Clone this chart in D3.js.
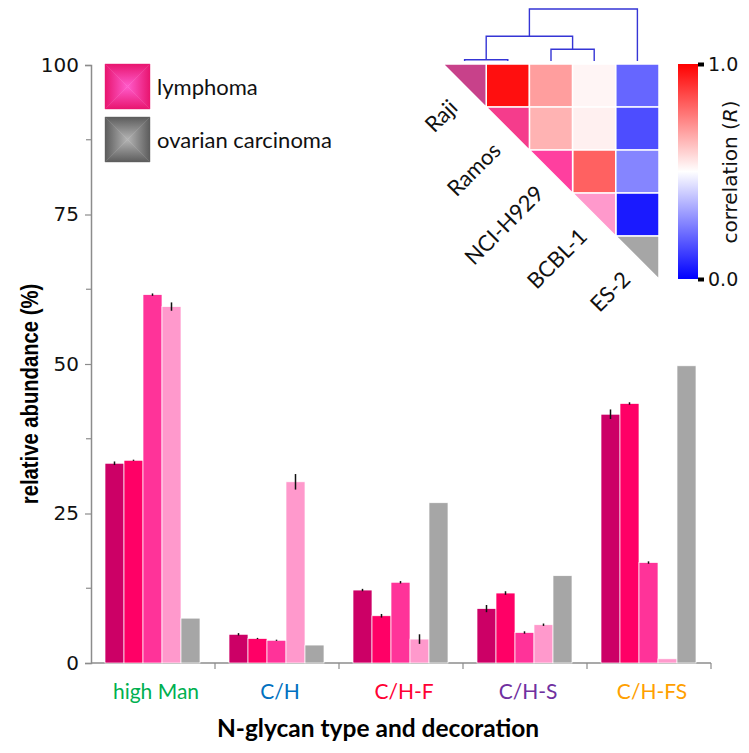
<!DOCTYPE html>
<html>
<head>
<meta charset="utf-8">
<script src="https://cdn.jsdelivr.net/npm/d3@7"></script>
<style>
  body { margin: 0; background: #fff; }
  svg { display: block; }
</style>
</head>
<body>
<div id="chart"></div>
<script>
// 資料
const categories = ['high Man', 'C/H', 'C/H-F', 'C/H-S', 'C/H-FS'];
const categoryColors = ['#00b050', '#0070c0', '#ff0033', '#7030a0', '#ffa000'];
const cellLines = ['Raji', 'Ramos', 'NCI-H929', 'BCBL-1', 'ES-2'];
const barColors = ['#cc0066', '#ff0066', '#ff3399', '#ff99cc', '#a6a6a6'];
const triColors = ['#c8418a', '#f53c8c', '#ff3f9f', '#ff99cc', '#a6a6a6'];

// 每個細胞株在各類別的相對豐度 (%)
const rajiValues   = [33.4, 4.8, 12.2, 9.1, 41.6];
const ramosValues  = [33.9, 4.1, 7.9, 11.7, 43.4];
const nciValues    = [61.6, 3.8, 13.5, 5.1, 16.8];
const bcblValues   = [59.6, 30.3, 4.0, 6.4, 0.7];
const es2Values    = [7.5, 3.0, 26.8, 14.6, 49.7];

const rajiErr  = [0.3, 0.2, 0.2, 0.6, 0.8];
const ramosErr = [0.1, 0.1, 0.3, 0.3, 0.2];
const nciErr   = [0.2, 0.1, 0.2, 0.2, 0.2];
const bcblErr  = [0.7, 1.3, 0.8, 0.2, 0];
const es2Err   = [0, 0, 0, 0, 0];

const yTicks = [0, 25, 50, 75, 100];
const yMinorTicks = [12.5, 37.5, 62.5, 87.5];

// 相關係數 (上三角)
const corrRaji  = [null, 0.97, 0.69, 0.52, 0.20];
const corrRamos = [null, null, 0.65, 0.53, 0.15];
const corrNci   = [null, null, null, 0.81, 0.26];
const corrBcbl  = [null, null, null, null, 0.05];
const corrEs2   = [null, null, null, null, null];

// 樹狀圖合併高度 (距離)
const mergeHeights = [0.02, 0.2, 0.42, 0.88];

const W = 749, H = 753;
const svg = d3.select('#chart').append('svg')
  .attr('width', W).attr('height', H)
  .attr('viewBox', `0 0 ${W} ${H}`);

const defs = svg.append('defs');

// ---- 長條圖 ----
const plot = { left: 91, right: 711, top: 65, bottom: 663 };
const values = [rajiValues, ramosValues, nciValues, bcblValues, es2Values];
const errors = [rajiErr, ramosErr, nciErr, bcblErr, es2Err];

const x0 = d3.scaleBand().domain(categories).range([plot.left, plot.right]);
const x1 = d3.scaleBand().domain(cellLines).range([14, 109]);
const y = d3.scaleLinear().domain([0, 100]).range([plot.bottom, plot.top]);

const barData = [];
categories.forEach((c, ci) => {
  cellLines.forEach((s, si) => {
    barData.push({ cat: c, series: s, si, value: values[si][ci], err: errors[si][ci] });
  });
});

const axisColor = '#8c8c8c';

// Y 軸
const gy = svg.append('g').attr('transform', `translate(${plot.left},0)`);
gy.call(d3.axisLeft(y).tickValues(yTicks).tickSize(6).tickPadding(6).tickFormat(d3.format('d')));
gy.select('.domain').attr('stroke', axisColor).attr('stroke-width', 1.5);
gy.selectAll('.tick line').attr('stroke', axisColor).attr('stroke-width', 1.2);
gy.selectAll('.tick text')
  .attr('fill', '#111')
  .style('font-family', '"DejaVu Sans", Verdana, sans-serif')
  .style('font-size', '20px');
gy.selectAll('.minor')
  .data(yMinorTicks).enter().append('line')
  .attr('x1', -5).attr('x2', 0)
  .attr('y1', d => y(d)).attr('y2', d => y(d))
  .attr('stroke', axisColor).attr('stroke-width', 1.2);

// X 軸
const gx = svg.append('g').attr('transform', `translate(0,${plot.bottom})`);
gx.append('line')
  .attr('x1', plot.left).attr('x2', plot.right)
  .attr('stroke', axisColor).attr('stroke-width', 1.5);
gx.selectAll('.xtick')
  .data(categories).enter().append('line')
  .attr('x1', d => x0(d) + x0.bandwidth()).attr('x2', d => x0(d) + x0.bandwidth())
  .attr('y1', 0).attr('y2', 6)
  .attr('stroke', axisColor).attr('stroke-width', 1.2);
gx.selectAll('.xlabel')
  .data(categories).enter().append('text')
  .attr('x', d => x0(d) + x0.bandwidth() / 2 + 3)
  .attr('y', 36)
  .attr('text-anchor', 'middle')
  .attr('fill', (d, i) => categoryColors[i])
  .style('font-family', 'Lato, "Open Sans", sans-serif')
  .style('font-size', '21px')
  .text(d => d);

// 長條
svg.append('g').selectAll('rect')
  .data(barData).enter().append('rect')
  .attr('x', d => x0(d.cat) + x1(d.series))
  .attr('y', d => y(d.value))
  .attr('width', x1.bandwidth())
  .attr('height', d => y(0) - y(d.value))
  .attr('fill', d => barColors[d.si])
  .attr('stroke', '#fff')
  .attr('stroke-width', 0.7);

// 誤差線
svg.append('g').selectAll('line')
  .data(barData.filter(d => d.err > 0)).enter().append('line')
  .attr('x1', d => x0(d.cat) + x1(d.series) + x1.bandwidth() / 2)
  .attr('x2', d => x0(d.cat) + x1(d.series) + x1.bandwidth() / 2)
  .attr('y1', d => y(d.value - d.err))
  .attr('y2', d => y(d.value + d.err))
  .attr('stroke', '#111').attr('stroke-width', 1.5);

// 軸標題
svg.append('text')
  .attr('transform', `translate(38,${394}) rotate(-90) scale(0.92,1.1)`)
  .attr('text-anchor', 'middle')
  .style('font-family', '"Liberation Sans", Arial, sans-serif')
  .style('font-weight', 'bold')
  .style('font-size', '22px')
  .text('relative abundance (%)');

svg.append('text')
  .attr('x', 378).attr('y', 737)
  .attr('text-anchor', 'middle')
  .style('font-family', 'Lato, "Open Sans", sans-serif')
  .style('font-weight', 'bold')
  .style('font-size', '24.5px')
  .text('N-glycan type and decoration');

// ---- 圖例 ----
function boxGradient(id, edge, center) {
  const dirs = {
    top: [0, 0, 0, 1], bottom: [0, 1, 0, 0],
    left: [0, 0, 1, 0], right: [1, 0, 0, 0]
  };
  Object.entries(dirs).forEach(([k, v]) => {
    const g = defs.append('linearGradient').attr('id', `${id}-${k}`)
      .attr('x1', v[0]).attr('y1', v[1]).attr('x2', v[2]).attr('y2', v[3]);
    g.append('stop').attr('offset', 0).attr('stop-color', edge);
    g.append('stop').attr('offset', 1).attr('stop-color', center);
  });
}
boxGradient('gPink', '#e8156f', '#ff5ccc');
boxGradient('gGray', '#5c5c5c', '#b4b4b4');

const legendItems = [
  { label: 'lymphoma', grad: 'gPink' },
  { label: 'ovarian carcinoma', grad: 'gGray' }
];
const legend = svg.append('g').attr('transform', 'translate(105,64)');
legendItems.forEach((d, i) => {
  const g = legend.append('g').attr('transform', `translate(0,${i * 53})`);
  const s = 45, c = s / 2;
  const tris = {
    top: `M0,0L${s},0L${c},${c}Z`,
    bottom: `M0,${s}L${s},${s}L${c},${c}Z`,
    left: `M0,0L0,${s}L${c},${c}Z`,
    right: `M${s},0L${s},${s}L${c},${c}Z`
  };
  Object.entries(tris).forEach(([k, p]) => {
    g.append('path').attr('d', p).attr('fill', `url(#${d.grad}-${k})`)
      .attr('stroke', `url(#${d.grad}-${k})`).attr('stroke-width', 0.4);
  });
  g.append('text')
    .attr('x', 52).attr('y', 31)
    .style('font-family', 'Lato, "Open Sans", sans-serif')
    .style('font-size', '22px')
    .attr('fill', '#111')
    .text(d.label);
});

// ---- 相關熱圖 ----
const corr = [corrRaji, corrRamos, corrNci, corrBcbl, corrEs2];
const hx = d3.scaleBand().domain(cellLines).range([443, 659]);
const hy = d3.scaleBand().domain(cellLines).range([64, 279]);
const cs = hx.bandwidth();
const corrColor = d3.scaleLinear().domain([0, 0.5, 1]).range(['#0000ff', '#ffffff', '#ff0000']);

const cells = [];
cellLines.forEach((r, ri) => {
  cellLines.forEach((c, ci) => {
    if (ci > ri) cells.push({ r, c, v: corr[ri][ci] });
  });
});
const hm = svg.append('g');
hm.selectAll('rect')
  .data(cells).enter().append('rect')
  .attr('x', d => hx(d.c)).attr('y', d => hy(d.r))
  .attr('width', cs).attr('height', cs)
  .attr('fill', d => corrColor(d.v))
  .attr('stroke', '#fff').attr('stroke-width', 1.5);

hm.selectAll('path.diag')
  .data(cellLines).enter().append('path')
  .attr('class', 'diag')
  .attr('d', d => {
    const x = hx(d), yy = hy(d);
    return `M${x},${yy}L${x + cs},${yy}L${x + cs},${yy + cs}Z`;
  })
  .attr('fill', (d, i) => triColors[i])
  .attr('stroke', '#fff').attr('stroke-width', 1.5);

hm.selectAll('text.rowlabel')
  .data(cellLines).enter().append('text')
  .attr('class', 'rowlabel')
  .attr('transform', d => `translate(${hx(d) + 16},${hy(d) + 45}) rotate(-45)`)
  .attr('text-anchor', 'end')
  .style('font-family', 'Lato, "Open Sans", sans-serif')
  .style('font-size', '22px')
  .attr('fill', '#111')
  .text(d => d);

// 樹狀圖
const dy = d3.scaleLinear().domain([0, 0.88]).range([61, 9]);
const cx = d => hx(d) + cs / 2;
const dendro = [
  { l: cx('Raji'), r: cx('Ramos'), lh: 0, rh: 0, h: mergeHeights[0] },
  { l: cx('NCI-H929'), r: cx('BCBL-1'), lh: 0, rh: 0, h: mergeHeights[1] }
];
dendro.push({ l: (dendro[0].l + dendro[0].r) / 2, r: (dendro[1].l + dendro[1].r) / 2, lh: mergeHeights[0], rh: mergeHeights[1], h: mergeHeights[2] });
dendro.push({ l: (dendro[2].l + dendro[2].r) / 2, r: cx('ES-2'), lh: mergeHeights[2], rh: 0, h: mergeHeights[3] });

svg.append('g').selectAll('path')
  .data(dendro).enter().append('path')
  .attr('d', d => `M${d.l},${dy(d.lh)}V${dy(d.h)}H${d.r}V${dy(d.rh)}`)
  .attr('fill', 'none')
  .attr('stroke', '#3535d5')
  .attr('stroke-width', 1.4);

// 色標
const cb = { x: 678, w: 20 };
const cbScale = d3.scaleLinear().domain([0, 1]).range([279, 64]);
const cbGrad = defs.append('linearGradient').attr('id', 'cbGrad')
  .attr('x1', 0).attr('y1', 1).attr('x2', 0).attr('y2', 0);
[0, 0.5, 1].forEach(v => cbGrad.append('stop').attr('offset', v).attr('stop-color', corrColor(v)));
svg.append('rect')
  .attr('x', cb.x).attr('y', cbScale(1))
  .attr('width', cb.w).attr('height', cbScale(0) - cbScale(1))
  .attr('fill', 'url(#cbGrad)');

const gcb = svg.append('g').attr('transform', `translate(${cb.x + cb.w},0)`);
gcb.call(d3.axisRight(cbScale).tickValues([0, 1]).tickSize(6).tickPadding(4).tickFormat(d3.format('.1f')));
gcb.select('.domain').remove();
gcb.selectAll('.tick line').attr('stroke', '#000').attr('stroke-width', 4);
gcb.selectAll('.tick text')
  .attr('fill', '#111')
  .style('font-family', '"DejaVu Sans", Verdana, sans-serif')
  .style('font-size', '19px');

const cbTitle = svg.append('text')
  .attr('transform', `translate(737,172) rotate(-90)`)
  .attr('text-anchor', 'middle')
  .style('font-family', '"DejaVu Sans", Verdana, sans-serif')
  .style('font-size', '20px')
  .attr('fill', '#111');
cbTitle.append('tspan').text('correlation (');
cbTitle.append('tspan').style('font-style', 'italic').text('R');
cbTitle.append('tspan').text(')');
</script>
</body>
</html>
